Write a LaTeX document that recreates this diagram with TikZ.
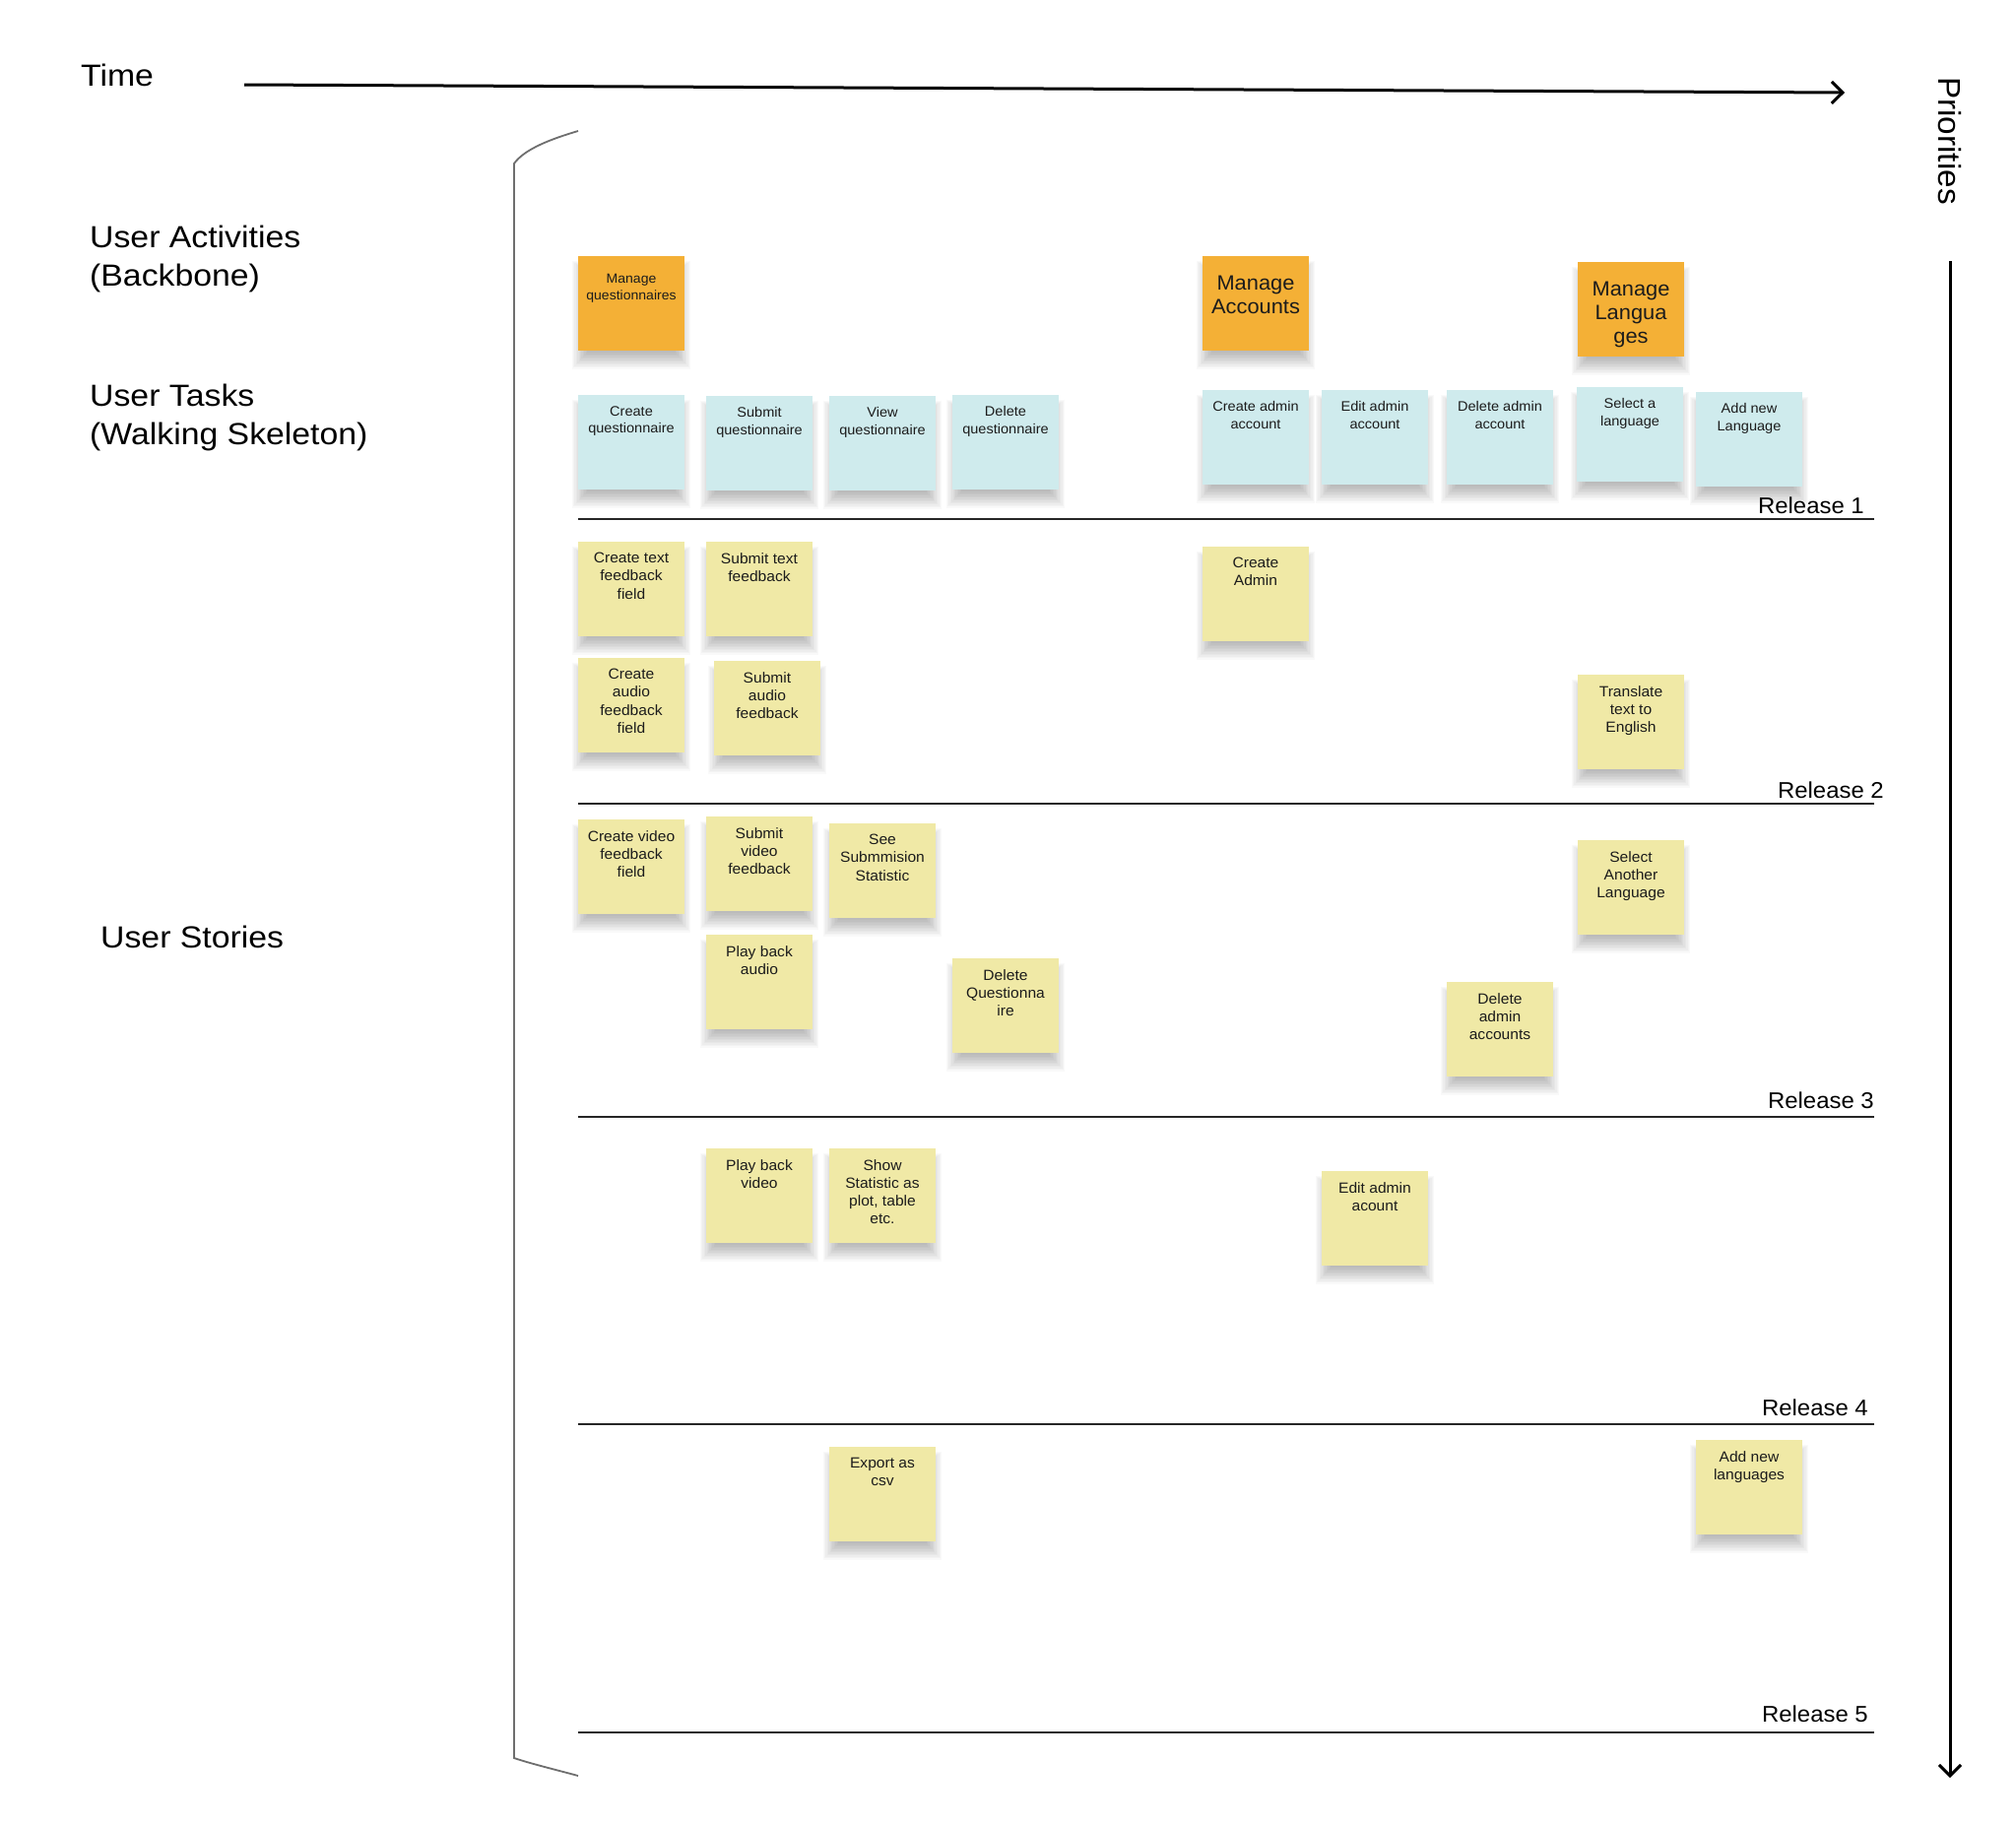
\documentclass[tikz,border=0pt]{standalone}
\usepackage{fontspec}
\setmainfont[FakeStretch=1.04]{Liberation Sans}
\newfontfamily\headfont[FakeStretch=1.09]{Liberation Sans}
\usetikzlibrary{arrows.meta}

\definecolor{noteorange}{HTML}{F4B036}
\definecolor{noteblue}{HTML}{CFEBED}
\definecolor{noteyellow}{HTML}{F0E9A6}
\definecolor{inkdark}{HTML}{1C1C1C}
\definecolor{bracketgrey}{HTML}{6E6E6E}

\tikzset{
  notebox/.style={anchor=north west, minimum width=108pt, minimum height=96pt,
    inner sep=0pt, outer sep=0pt, draw=none},
  notetext/.style={anchor=north, align=center, inner sep=0pt, text=inkdark},
  storytext/.style={notetext, yshift=-11pt, font=\fontsize{15}{18.3}\selectfont},
  tasktext/.style={notetext, yshift=-11.5pt, font=\fontsize{14}{17.2}\selectfont},
  smalltext/.style={notetext, yshift=-18pt, font=\fontsize{13.5}{17}\selectfont},
  bigtext/.style={notetext, yshift=-20pt, font=\fontsize{21}{23.8}\selectfont},
  heading/.style={anchor=north west, align=left, inner sep=0pt, text=black,
    font=\headfont\fontsize{31}{39}\selectfont},
  release/.style={anchor=base east, inner sep=0pt, text=black,
    font=\fontsize{23}{28}\selectfont},
  releaseline/.style={line width=1.5pt, draw=black!85},
  axis/.style={line width=3pt, draw=black,
    -{Straight Barb[length=11pt,width=22pt,line width=3pt]}},
  bracketline/.style={line width=1.8pt, draw=bracketgrey},
}

% sticky note with a soft shadow: name, left x, top y, fill colour, text style, text
\newcommand\sticky[6]{%
  \foreach \k in {0,...,11}{%
    \fill[black, opacity=0.022] (#2+9-1.4*\k, #3+16-\k) rectangle (#2+99+1.4*\k, #3+98+1.5*\k);
  }
  \node[notebox, fill=#4] (#1) at (#2,#3) {};
  \node[#5] (#1-text) at (#1.north) {#6};
}

\begin{document}
\begin{tikzpicture}[x=1pt, y=-1pt]
  \useasboundingbox[fill=white] (0,0) rectangle (2047,1853);

  % axes
  \coordinate (time-start) at (248,86);
  \coordinate (time-end) at (1873,94);
  \draw[axis] (time-start) -- (time-end);
  \node[heading] (time) at (82,65) {Time};

  \coordinate (prio-start) at (1980,265);
  \coordinate (prio-end) at (1980,1805);
  \draw[axis] (prio-start) -- (prio-end);
  \node[inner sep=0pt, rotate=-90, font=\fontsize{32}{38}\selectfont] (prio) at (1980,143) {Priorities};

  % row headings
  \node[heading] (activities) at (91,228.5) {User Activities\\(Backbone)};
  \node[heading] (tasks) at (91,390) {User Tasks\\(Walking Skeleton)};
  \node[heading] (stories) at (102,940) {User Stories};

  % left bracket
  \coordinate (br-top) at (587,133);
  \coordinate (br-bot) at (587,1803);
  \draw[bracketline] (br-top) .. controls (560,141) and (533,151) .. (522,166)
    -- (522,1785) .. controls (540,1791) and (565,1797) .. (br-bot);

  % release lines
  \foreach \n/\y/\r/\t in {1/527/1893/521,2/816/1913/810,3/1134/1903/1125,4/1446/1897/1437,5/1759/1897/1748}{
    \coordinate (rel\n-l) at (587,\y);
    \coordinate (rel\n-r) at (1903,\y);
    \draw[releaseline] (rel\n-l) -- (rel\n-r);
    \node[release] (rel\n-label) at (\r,\t) {Release \n};
  }

  % backbone
  \sticky{mq}{587}{260}{noteorange}{smalltext}{Manage\\questionnaires}
  \sticky{ma}{1221}{260}{noteorange}{bigtext}{Manage\\Accounts}
  \sticky{ml}{1602}{266}{noteorange}{bigtext}{Manage\\Langua\\ges}

  % walking skeleton
  \sticky{cq}{587}{401}{noteblue}{tasktext}{Create\\questionnaire}
  \sticky{sq}{717}{402}{noteblue}{tasktext}{Submit\\questionnaire}
  \sticky{vq}{842}{402}{noteblue}{tasktext}{View\\questionnaire}
  \sticky{dq}{967}{401}{noteblue}{tasktext}{Delete\\questionnaire}
  \sticky{caa}{1221}{396}{noteblue}{tasktext}{Create admin\\account}
  \sticky{eaa}{1342}{396}{noteblue}{tasktext}{Edit admin\\account}
  \sticky{daa}{1469}{396}{noteblue}{tasktext}{Delete admin\\account}
  \sticky{sl}{1601}{393}{noteblue}{tasktext}{Select a\\language}
  \sticky{anl}{1722}{398}{noteblue}{tasktext}{Add new\\Language}

  % user stories
  \sticky{ctf}{587}{550}{noteyellow}{storytext}{Create text\\feedback\\field}
  \sticky{stf}{717}{550}{noteyellow}{storytext}{Submit text\\feedback}
  \sticky{cad}{1221}{555}{noteyellow}{storytext}{Create\\Admin}
  \sticky{caf}{587}{668}{noteyellow}{storytext}{Create\\audio\\feedback\\field}
  \sticky{saf}{725}{671}{noteyellow}{storytext}{Submit\\audio\\feedback}
  \sticky{tte}{1602}{685}{noteyellow}{storytext}{Translate\\text to\\English}
  \sticky{cvf}{587}{832}{noteyellow}{storytext}{Create video\\feedback\\field}
  \sticky{svf}{717}{829}{noteyellow}{storytext}{Submit\\video\\feedback}
  \sticky{sss}{842}{836}{noteyellow}{storytext}{See\\Submmision\\Statistic}
  \sticky{sal}{1602}{853}{noteyellow}{storytext}{Select\\Another\\Language}
  \sticky{pba}{717}{949}{noteyellow}{storytext}{Play back\\audio}
  \sticky{dqi}{967}{973}{noteyellow}{storytext}{Delete\\Questionna\\ire}
  \sticky{dac}{1469}{997}{noteyellow}{storytext}{Delete\\admin\\accounts}
  \sticky{pbv}{717}{1166}{noteyellow}{storytext}{Play back\\video}
  \sticky{ssp}{842}{1166}{noteyellow}{storytext}{Show\\Statistic as\\plot, table\\etc.}
  \sticky{eac}{1342}{1189}{noteyellow}{storytext}{Edit admin\\acount}
  \sticky{exc}{842}{1469}{noteyellow}{storytext}{Export as\\csv}
  \sticky{anls}{1722}{1462}{noteyellow}{storytext}{Add new\\languages}
\end{tikzpicture}
\end{document}
